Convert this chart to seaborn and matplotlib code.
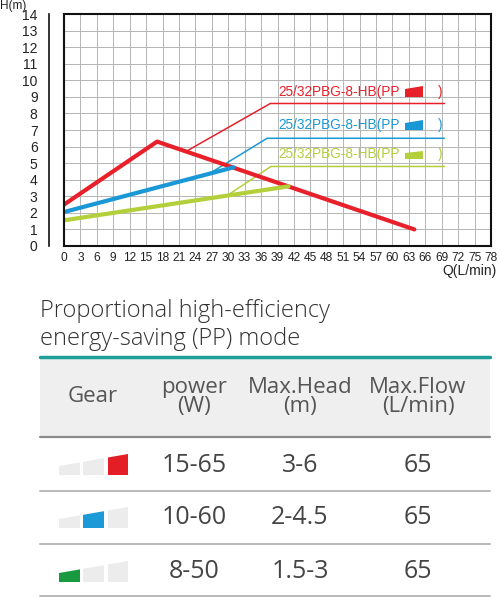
import matplotlib
matplotlib.use("Agg")
import matplotlib.pyplot as plt
from matplotlib.patches import Polygon, Rectangle
from matplotlib.lines import Line2D
import seaborn as sns
import pandas as pd

# ---- data ----
red_q = [0, 17, 64]
red_h = [2.5, 6.3, 1.0]
blue_q = [0, 27, 31]
blue_h = [2.05, 4.4, 4.75]
green_q = [0, 30, 41]
green_h = [1.55, 3.05, 3.6]

# leader lines from the curves to the labels
red_lead_q = [22, 37.7, 69.5]
red_lead_h = [5.65, 8.6, 8.6]
blue_lead_q = [26.7, 37.1, 69.5]
blue_lead_h = [4.4, 6.5, 6.5]
green_lead_q = [29.7, 37.8, 69.5]
green_lead_h = [3.02, 4.8, 4.8]

label_text = "25/32PBG-8-HB(PP"
x_ticks = list(range(0, 79, 3))
y_ticks = list(range(0, 15))

power = ["15-65", "10-60", "8-50"]
max_head = ["3-6", "2-4.5", "1.5-3"]
max_flow = ["65", "65", "65"]
header = ["Gear", "power\n(W)", "Max.Head\n(m)", "Max.Flow\n(L/min)"]

RED = "#e8202a"
BLUE = "#1a98d5"
GREEN = "#b3cf3a"
GEAR_COLORS = ["#e31e24", "#1b9ad7", "#1a9a40"]
GREY_BLOCK = "#ececec"

W, H = 500, 598
sns.set_style("white")
plt.rcParams["font.family"] = ["Liberation Sans", "DejaVu Sans"]

fig = plt.figure(figsize=(W / 100, H / 100), dpi=100)


def fx(px):
    return px / W


def fy(py):
    return 1 - py / H


# =======================
# chart
# =======================
ax = fig.add_axes([fx(64), fy(246), 427 / W, 232 / H])

curves = pd.concat([
    pd.DataFrame({"Q": red_q, "H": red_h, "s": "red"}),
    pd.DataFrame({"Q": blue_q, "H": blue_h, "s": "blue"}),
    pd.DataFrame({"Q": green_q, "H": green_h, "s": "green"}),
])
leads = pd.concat([
    pd.DataFrame({"Q": red_lead_q, "H": red_lead_h, "s": "red"}),
    pd.DataFrame({"Q": blue_lead_q, "H": blue_lead_h, "s": "blue"}),
    pd.DataFrame({"Q": green_lead_q, "H": green_lead_h, "s": "green"}),
])
pal = {"red": RED, "blue": BLUE, "green": GREEN}

sns.lineplot(data=leads, x="Q", y="H", hue="s", palette=pal, sort=False,
             estimator=None, lw=1.1, legend=False, ax=ax)
sns.lineplot(data=curves, x="Q", y="H", hue="s", palette=pal, sort=False,
             estimator=None, lw=3.0, legend=False, ax=ax)

ax.set_xlim(0, 78)
ax.set_ylim(0, 14)
ax.set_xticks(x_ticks)
ax.set_yticks(y_ticks)
ax.set_xticklabels([str(v) for v in x_ticks], fontsize=8.6)
ax.set_yticklabels([str(v) for v in y_ticks], fontsize=10.5)
ax.grid(True, color="#b5b5b5", lw=0.7)
ax.set_axisbelow(True)
ax.set_xlabel("")
ax.set_ylabel("")
ax.tick_params(axis="x", length=0, pad=4, colors="#222")
ax.tick_params(axis="y", length=7, width=1, direction="out", pad=1, colors="#222")

for side in ["top", "right", "bottom"]:
    ax.spines[side].set_color("#111")
    ax.spines[side].set_linewidth(1.5)
ax.spines["left"].set_position(("outward", 11))
ax.spines["left"].set_color("#111")
ax.spines["left"].set_linewidth(1.2)
ax.axvline(0, color="#111", lw=1.5, clip_on=False)

# series labels
for y_lab, col in zip([9.3, 7.3, 5.55], [RED, BLUE, GREEN]):
    ax.text(39.1, y_lab, label_text, color=col, fontsize=9.8, va="center", ha="left")
    ax.text(68.8, y_lab, ")", color=col, fontsize=9.8, va="center", ha="center")

# small gear icons inside the labels
icon_y = [97, 130, 159]
icon_h = [(8, 11), (7, 10), (6, 8)]
for yb, (hl, hr), col in zip(icon_y, icon_h, [RED, BLUE, GREEN]):
    fig.add_artist(Polygon([(fx(405), fy(yb)), (fx(423), fy(yb)),
                            (fx(423), fy(yb - hr)), (fx(405), fy(yb - hl))],
                           closed=True, transform=fig.transFigure,
                           facecolor=col, edgecolor="none"))

fig.text(fx(0), fy(6), "H(m)", fontsize=8.5, va="center", ha="left", color="#222")
fig.text(fx(497), fy(271), "Q(L/min)", fontsize=10, va="center", ha="right", color="#222")

# =======================
# table
# =======================
TFONT = ["Open Sans", "DejaVu Sans"]
fig.text(fx(40), fy(317), "Proportional high-efficiency", family=TFONT,
         fontsize=17, fontweight="light", color="#333", va="baseline", ha="left")
fig.text(fx(40), fy(345), "energy-saving (PP) mode", family=TFONT,
         fontsize=17, fontweight="light", color="#333", va="baseline", ha="left")

fig.add_artist(Rectangle((fx(40), fy(437)), fx(490) - fx(40), (437 - 357) / H,
                         transform=fig.transFigure, facecolor="#efefef",
                         edgecolor="none"))
fig.add_artist(Line2D([fx(40), fx(490)], [fy(357), fy(357)],
                      transform=fig.transFigure, color="#1d9e98", lw=2.5))
fig.add_artist(Line2D([fx(40), fx(490)], [fy(437), fy(437)],
                      transform=fig.transFigure, color="#8c8c8c", lw=1.6))

col_x = [93, 194, 300, 418]
for cx, txt in zip(col_x, header):
    fig.text(fx(cx), fy(397), txt, family=TFONT, fontsize=16, color="#555",
             ha="center", va="center", linespacing=0.85)

row_y = [465, 518, 572]
line_y = [491, 544, 596]
for i, ry in enumerate(row_y):
    for cx, txt in zip(col_x[1:], [power[i], max_head[i], max_flow[i]]):
        fig.text(fx(cx), fy(ry), txt, family=TFONT, fontsize=18, color="#444",
                 ha="center", va="center")
    fig.add_artist(Line2D([fx(40), fx(490)], [fy(line_y[i]), fy(line_y[i])],
                          transform=fig.transFigure, color="#b8b8b8", lw=1.4))
    # gear icon: three slanted blocks, active one coloured
    bottom = ry + 10
    active = 2 - i
    for b, (x0, x1) in enumerate([(59, 80), (83, 104), (108, 128)]):
        h0 = 9 + (x0 - 59) / 69 * 12
        h1 = 9 + (x1 - 59) / 69 * 12
        fig.add_artist(Polygon([(fx(x0), fy(bottom)), (fx(x1), fy(bottom)),
                                (fx(x1), fy(bottom - h1)), (fx(x0), fy(bottom - h0))],
                               closed=True, transform=fig.transFigure,
                               facecolor=GEAR_COLORS[i] if b == active else GREY_BLOCK,
                               edgecolor="none"))

fig.savefig("out.png", dpi=100)
